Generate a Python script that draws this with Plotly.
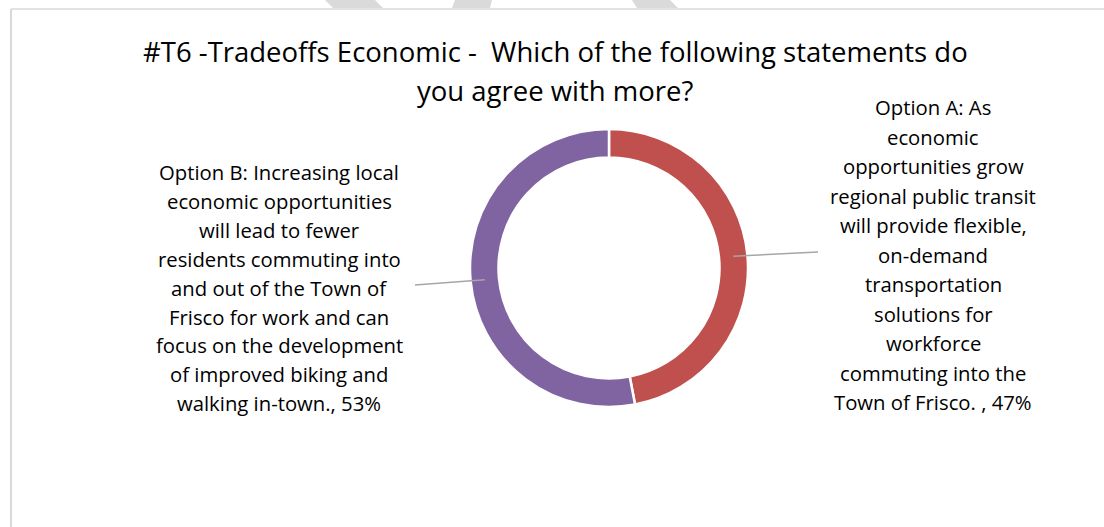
import math
import plotly.graph_objects as go

W, H = 1104, 527

# Survey results
categories = ["Option A", "Option B"]
shares = [47, 53]
colors = ["#C0504D", "#8064A2"]

title_lines = [
    "#T6 -Tradeoffs Economic -  Which of the following statements do",
    "you agree with more?",
]

label_a_lines = [
    "Option A: As",
    "economic",
    "opportunities grow",
    "regional public transit",
    "will provide flexible,",
    "on-demand",
    "transportation",
    "solutions for",
    "workforce",
    "commuting into the",
    "Town of Frisco. , 47%",
]
label_b_lines = [
    "Option B: Increasing local",
    "economic opportunities",
    "will lead to fewer",
    "residents commuting into",
    "and out of the Town of",
    "Frisco for work and can",
    "focus on the development",
    "of improved biking and",
    "walking in-town., 53%",
]

FONT = "'Open Sans', 'Noto Sans', sans-serif"

# Donut geometry in pixels
cx, cy, R = 609, 268, 139
hole = 0.795


def px(x):
    return x / W


def py(y):
    return 1 - y / H


fig = go.Figure(
    go.Pie(
        labels=categories,
        values=shares,
        sort=False,
        direction="clockwise",
        rotation=0,
        hole=hole,
        textinfo="none",
        hoverinfo="label+percent",
        marker=dict(colors=colors, line=dict(color="white", width=2.5)),
        domain=dict(x=[px(cx - R), px(cx + R)], y=[py(cy + R), py(cy - R)]),
        showlegend=False,
    )
)

annotations = []
for i, t in enumerate(title_lines):
    annotations.append(dict(
        text=t, x=px(555), y=py(52 + 38 * i), xref="paper", yref="paper",
        xanchor="center", yanchor="middle", showarrow=False,
        font=dict(family=FONT, size=27.5, color="#000000"),
    ))
for i, t in enumerate(label_a_lines):
    annotations.append(dict(
        text=t, x=px(933), y=py(107 + 29.5 * i), xref="paper", yref="paper",
        xanchor="center", yanchor="middle", showarrow=False,
        font=dict(family=FONT, size=20.3, color="#000000"),
    ))
for i, t in enumerate(label_b_lines):
    annotations.append(dict(
        text=t, x=px(279), y=py(172 + 28.9 * i), xref="paper", yref="paper",
        xanchor="center", yanchor="middle", showarrow=False,
        font=dict(family=FONT, size=20.3, color="#000000"),
    ))

# Leader lines from the middle of each ring segment to its label
total = sum(shares)
r_mid = R * (1 + hole) / 2
label_ends = [(818, 252), (415, 285)]
shapes = []
start = 0.0
for v, (lx, ly) in zip(shares, label_ends):
    mid = (start + v / 2) / total * 2 * math.pi
    start += v
    mx = cx + r_mid * math.sin(mid)
    my = cy - r_mid * math.cos(mid)
    shapes.append(dict(
        type="line", xref="paper", yref="paper",
        x0=px(mx), y0=py(my), x1=px(lx), y1=py(ly),
        line=dict(color="#A6A6A6", width=1.5), layer="above",
    ))

# Chart frame (top and left edges)
shapes.append(dict(type="line", xref="paper", yref="paper",
                   x0=px(11), y0=py(9), x1=1, y1=py(9),
                   line=dict(color="#D9D9D9", width=1.5)))
shapes.append(dict(type="line", xref="paper", yref="paper",
                   x0=px(11), y0=py(9), x1=px(11), y1=0,
                   line=dict(color="#D9D9D9", width=2)))

# Light diagonal marks above the frame
for (a, b, c, d) in [(325, 375, 383, 333), (455, 492, 490, 452), (632, 670, 678, 637)]:
    shapes.append(dict(
        type="path", xref="paper", yref="paper",
        path=f"M {px(a)} {py(0)} L {px(b)} {py(0)} L {px(c)} {py(8)} L {px(d)} {py(8)} Z",
        fillcolor="#DADADA", line=dict(width=0), layer="below",
    ))

fig.update_layout(
    width=W, height=H,
    margin=dict(l=0, r=0, t=0, b=0),
    paper_bgcolor="white",
    plot_bgcolor="white",
    annotations=annotations,
    shapes=shapes,
)

fig.write_html("out.html")
